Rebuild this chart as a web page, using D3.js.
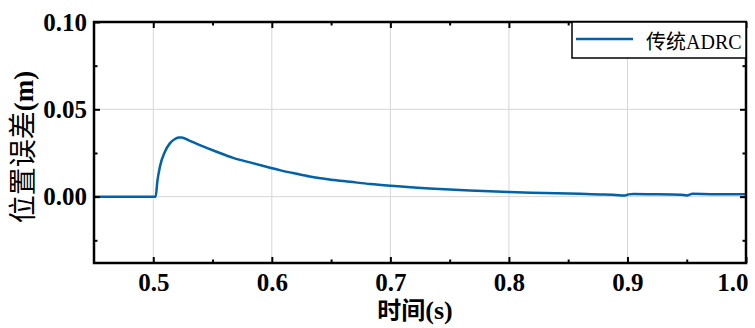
<!DOCTYPE html>
<html>
<head>
<meta charset="utf-8">
<script src="https://cdn.jsdelivr.net/npm/d3@7"></script>
<style>
  html, body { margin: 0; padding: 0; background: #fff; }
  svg { display: block; }
  .tick text { font-family: "Liberation Serif", "Times New Roman", serif; font-size: 25px; font-weight: bold; fill: #000; }
</style>
</head>
<body>
<div id="chart"></div>
<script>
// thời gian (s) và sai số vị trí (m)
const timeVals = [0.45, 0.502, 0.5035, 0.5056, 0.5098, 0.514, 0.5183, 0.5215, 0.5239, 0.530, 0.5393, 0.5534, 0.5674,
  0.5815, 0.5955, 0.6067, 0.620, 0.632, 0.650, 0.666, 0.683, 0.700, 0.733, 0.767, 0.800, 0.830, 0.860, 0.880,
  0.893, 0.898, 0.901, 0.905, 0.920, 0.945, 0.950, 0.955, 0.970, 1.000];
const errVals = [0, 0, 0.0090, 0.0171, 0.0257, 0.0305, 0.0330, 0.0338, 0.0339, 0.0322, 0.0295, 0.0257, 0.0222,
  0.0196, 0.0171, 0.0152, 0.0132, 0.0115, 0.0097, 0.0085, 0.0072, 0.0062, 0.0047, 0.0035, 0.0026, 0.0021, 0.0016, 0.0012,
  0.0008, 0.0006, 0.0013, 0.0015, 0.0014, 0.0011, 0.0007, 0.0016, 0.0014, 0.0013];
const seriesName = '传统ADRC';
const xMajor = [0.5, 0.6, 0.7, 0.8, 0.9, 1.0];
const xMinor = [0.55, 0.65, 0.75, 0.85, 0.95];
const yMajor = [0.10, 0.05, 0.00];
const yMinor = [0.075, 0.025, -0.025];

const width = 755, height = 328;
const margin = { top: 22, right: 9, bottom: 65, left: 94 };
const iw = width - margin.left - margin.right;
const ih = height - margin.top - margin.bottom;
const blue = '#0062A8';
const serif = '"Liberation Serif", "Times New Roman", serif';
const cjk = '"Noto Sans CJK SC", sans-serif';

const svg = d3.select('#chart').append('svg')
  .attr('width', width).attr('height', height);
const g = svg.append('g').attr('transform', `translate(${margin.left},${margin.top})`);

const x = d3.scaleLinear().domain([0.45, 1.0]).range([0, iw]);
const y = d3.scaleLinear().domain([-0.038, 0.10]).range([ih, 0]);

// lưới
g.append('g').selectAll('line').data(xMajor).join('line')
  .attr('x1', d => x(d)).attr('x2', d => x(d)).attr('y1', 0).attr('y2', ih)
  .attr('stroke', '#d6d6d6').attr('stroke-width', 1);
g.append('g').selectAll('line').data(yMajor).join('line')
  .attr('x1', 0).attr('x2', iw).attr('y1', d => y(d)).attr('y2', d => y(d))
  .attr('stroke', '#d6d6d6').attr('stroke-width', 1);

// đường dữ liệu
const pts = timeVals.map((t, i) => [t, errVals[i]]);
const line = d3.line().x(d => x(d[0])).y(d => y(d[1])).curve(d3.curveMonotoneX);
g.append('path').datum(pts)
  .attr('d', line)
  .attr('fill', 'none')
  .attr('stroke', blue)
  .attr('stroke-width', 2.5)
  .attr('stroke-linejoin', 'round');

// trục (tick hướng vào trong)
const axB = g.append('g').attr('transform', `translate(0,${ih})`)
  .call(d3.axisBottom(x).tickValues(xMajor).tickSize(-6).tickPadding(10).tickFormat(d3.format('.1f')));
const axBm = g.append('g').attr('transform', `translate(0,${ih})`)
  .call(d3.axisBottom(x).tickValues(xMinor).tickSize(-3.5).tickFormat(''));
const axT = g.append('g')
  .call(d3.axisTop(x).tickValues(xMajor).tickSize(-6).tickFormat(''));
const axTm = g.append('g')
  .call(d3.axisTop(x).tickValues(xMinor).tickSize(-3.5).tickFormat(''));
const axL = g.append('g')
  .call(d3.axisLeft(y).tickValues(yMajor).tickSize(-6).tickPadding(7).tickFormat(d3.format('.2f')));
const axLm = g.append('g')
  .call(d3.axisLeft(y).tickValues(yMinor).tickSize(-3.5).tickFormat(''));
const axR = g.append('g').attr('transform', `translate(${iw},0)`)
  .call(d3.axisRight(y).tickValues(yMajor).tickSize(-6).tickFormat(''));
const axRm = g.append('g').attr('transform', `translate(${iw},0)`)
  .call(d3.axisRight(y).tickValues(yMinor).tickSize(-3.5).tickFormat(''));

[axB, axBm, axT, axTm, axL, axLm, axR, axRm].forEach(a => {
  a.attr('font-family', null).attr('font-size', null);
  a.select('.domain').remove();
  a.selectAll('.tick line').attr('stroke', '#000').attr('stroke-width', 2);
});
// nhãn 1.0 dịch vào trong khung
axB.selectAll('.tick text').filter(d => d === 1.0).attr('text-anchor', 'end').attr('x', 2);

// khung
g.append('rect').attr('x', 0).attr('y', 0).attr('width', iw).attr('height', ih)
  .attr('fill', 'none').attr('stroke', '#000').attr('stroke-width', 2.5);

// chú giải
const lg = g.append('g').attr('transform', `translate(${iw - 174},0)`);
lg.append('rect').attr('x', 0).attr('y', 0).attr('width', 174).attr('height', 36)
  .attr('fill', '#fff').attr('stroke', '#000').attr('stroke-width', 1.5);
lg.append('line').attr('x1', 4).attr('x2', 61).attr('y1', 17).attr('y2', 17)
  .attr('stroke', blue).attr('stroke-width', 2.5);
const lt = lg.append('text').attr('x', 74).attr('y', 27)
  .attr('fill', '#000').style('font-size', '20px');
lt.append('tspan').style('font-family', cjk).text(seriesName.slice(0, 2));
lt.append('tspan').style('font-family', serif).text(seriesName.slice(2));

// nhãn trục
const xl = svg.append('text')
  .attr('x', 415).attr('y', 319)
  .attr('text-anchor', 'middle').attr('fill', '#000');
xl.append('tspan').style('font-family', cjk).style('font-size', '24px').style('font-weight', 'bold').text('时间');
xl.append('tspan').style('font-family', serif).style('font-size', '26px').style('font-weight', 'bold').text('(s)');

const yl = svg.append('text')
  .attr('transform', 'translate(33,147) rotate(-90)')
  .attr('text-anchor', 'middle').attr('fill', '#000');
yl.append('tspan').style('font-family', cjk).style('font-size', '28px').text('位置误差');
yl.append('tspan').style('font-family', serif).style('font-size', '27px').style('font-weight', 'bold').text('(m)');
</script>
</body>
</html>
